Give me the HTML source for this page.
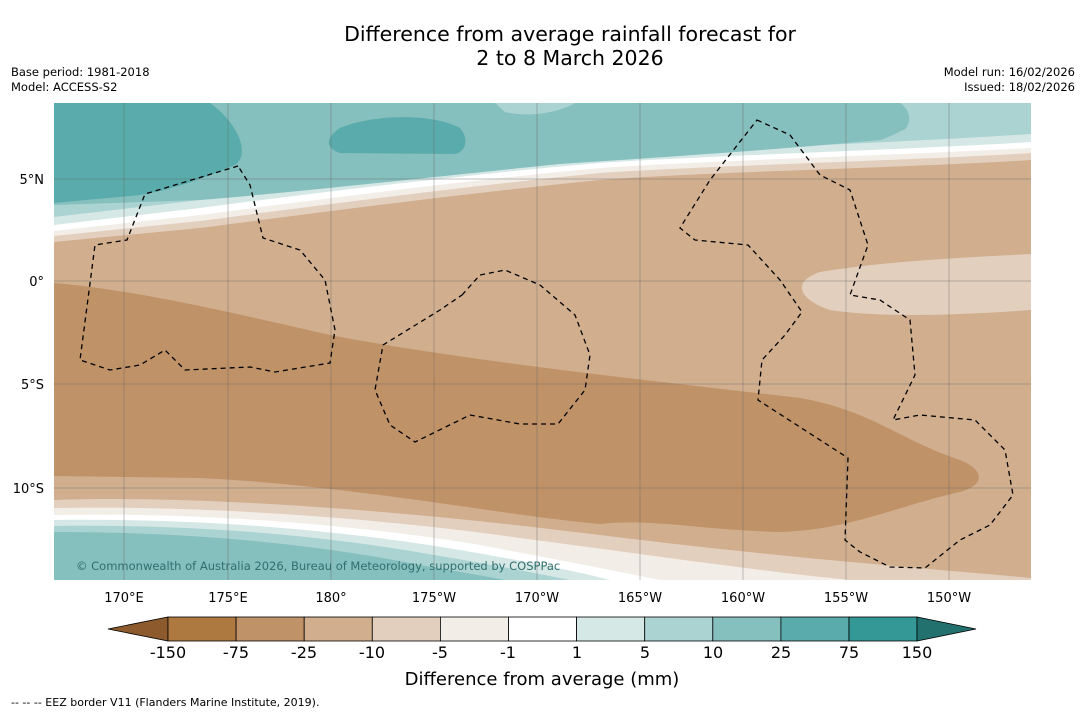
<!DOCTYPE html>
<html><head><meta charset="utf-8"><style>
body{margin:0;background:#fff;font-family:"DejaVu Sans","Liberation Sans",sans-serif;}
#wrap{position:relative;width:1085px;height:713px;overflow:hidden;background:#fff}
.t{position:absolute;white-space:nowrap;color:#000}
svg text{font-family:"DejaVu Sans","Liberation Sans",sans-serif}
</style></head><body>
<div id="wrap">
<div class="t" style="left:0;width:1140px;top:22px;text-align:center;font-size:20.5px;line-height:24px">Difference from average rainfall forecast for<br>2 to 8 March 2026</div>
<div class="t" style="left:11px;top:65px;font-size:11.5px;line-height:15px">Base period: 1981-2018<br>Model: ACCESS-S2</div>
<div class="t" style="right:10px;top:65px;font-size:11.5px;line-height:15px;text-align:right">Model run: 16/02/2026<br>Issued: 18/02/2026</div>
<svg width="1085" height="713" style="position:absolute;left:0;top:0">
<defs><clipPath id="mc"><rect x="54" y="103" width="977" height="477"/></clipPath></defs>
<g clip-path="url(#mc)">
<rect x="54" y="103" width="977" height="477" fill="#d0ae8e"/>
<path d="M54,103 H1031 V160 C900,168 700,172 600,180 C450,195 300,215 200,228 L54,242 Z" fill="#e3cfbd"/>
<path d="M54,103 H1031 V153 C900,161 700,166 600,173 C450,188 300,208 200,221 L54,236 Z" fill="#f2ede7"/>
<path d="M54,103 H1031 V148 C900,155 700,161 600,168 C450,182 300,202 200,215 L54,231 Z" fill="#ffffff"/>
<path d="M54,103 H1031 V142 C900,150 700,156 600,163 C450,176 300,195 200,208 L54,225 Z" fill="#d5e8e6"/>
<path d="M54,103 H1031 V134 C900,143 700,149 600,156 C450,168 300,187 200,200 L54,217 Z" fill="#abd3d2"/>
<path d="M54,103 H980 C930,110 910,130 880,140 C750,152 650,158 560,164 C450,175 300,192 200,200 L54,205 Z" fill="#85bfbe"/>
<path d="M54,103 H210 C240,125 250,155 235,165 C200,180 170,190 140,195 L54,203 Z" fill="#5aabab"/>
<path d="M340,128 C370,115 430,112 460,128 C470,140 465,152 455,154 L340,153 C325,148 325,138 340,128 Z" fill="#5aabab"/>
<path d="M495,103 H575 C560,112 530,118 505,112 Z" fill="#abd3d2"/>
<path d="M900,103 H1031 V130 C1000,138 960,135 905,130 C912,120 910,110 900,103 Z" fill="#abd3d2"/>
<path d="M1031,254 C950,258 880,262 820,272 C790,282 800,300 830,310 C880,318 960,315 1031,310 Z" fill="#e3cfbd"/>
<path d="M54,283 C130,290 200,305 330,335 C450,358 600,375 800,398 C870,410 900,440 960,460 C985,470 985,485 960,492 C900,505 850,530 780,532 C700,530 650,518 600,524 C500,515 350,485 200,478 L54,476 Z" fill="#bf9268"/>
<path d="M54,500 C200,495 400,510 600,535 C800,560 950,570 1031,578 V580 H54 Z" fill="#e3cfbd"/>
<path d="M54,508 C200,505 380,518 520,538 C650,555 750,570 850,580 H54 Z" fill="#f2ede7"/>
<path d="M54,515 C200,512 360,525 480,545 C560,560 620,572 660,580 H54 Z" fill="#ffffff"/>
<path d="M54,520 C200,518 340,530 460,550 C530,562 580,572 610,580 H54 Z" fill="#d5e8e6"/>
<path d="M54,526 C200,524 330,536 440,556 C500,566 540,574 570,580 H54 Z" fill="#abd3d2"/>
<path d="M54,532 C200,532 320,545 420,565 C460,572 490,577 505,580 H54 Z" fill="#85bfbe"/>
<g stroke="#666" stroke-width="0.5" stroke-opacity="0.8">
<line x1="124" y1="103" x2="124" y2="580"/><line x1="228" y1="103" x2="228" y2="580"/><line x1="331" y1="103" x2="331" y2="580"/><line x1="434" y1="103" x2="434" y2="580"/><line x1="537" y1="103" x2="537" y2="580"/><line x1="640" y1="103" x2="640" y2="580"/><line x1="743" y1="103" x2="743" y2="580"/><line x1="846" y1="103" x2="846" y2="580"/><line x1="949" y1="103" x2="949" y2="580"/>
<line x1="54" y1="179" x2="1031" y2="179"/><line x1="54" y1="281" x2="1031" y2="281"/><line x1="54" y1="384" x2="1031" y2="384"/><line x1="54" y1="488" x2="1031" y2="488"/>
</g>
<g fill="none" stroke="#000" stroke-width="1.3" stroke-dasharray="5,4">
<path d="M238,166 L145,194 L127,240 L95,245 L80,360 L110,370 L140,365 L165,350 L185,370 L250,367 L275,372 L330,363 L335,330 L325,280 L300,250 L263,238 L250,185 Z"/>
<path d="M462,295 L480,275 L505,270 L540,285 L575,315 L590,355 L585,390 L558,424 L520,424 L470,415 L415,442 L390,425 L375,390 L383,345 L440,310 Z"/>
<path d="M757,120 L790,135 L820,175 L850,190 L868,245 L850,295 L880,300 L910,320 L915,375 L893,420 L920,415 L975,420 L1005,450 L1013,495 L990,525 L960,540 L925,568 L890,567 L860,552 L845,540 L848,458 L758,400 L762,360 L785,335 L802,312 L780,280 L748,245 L695,240 L680,228 L710,180 Z"/>
</g>
<text x="76" y="570" font-size="11.5" fill="#2f6f6d">© Commonwealth of Australia 2026, Bureau of Meteorology, supported by COSPPac</text>
</g>
<g font-size="13" fill="#000">
<text x="124" y="602" text-anchor="middle">170°E</text><text x="228" y="602" text-anchor="middle">175°E</text><text x="331" y="602" text-anchor="middle">180°</text><text x="434" y="602" text-anchor="middle">175°W</text><text x="537" y="602" text-anchor="middle">170°W</text><text x="640" y="602" text-anchor="middle">165°W</text><text x="743" y="602" text-anchor="middle">160°W</text><text x="846" y="602" text-anchor="middle">155°W</text><text x="949" y="602" text-anchor="middle">150°W</text>
<text x="44" y="184" text-anchor="end">5°N</text><text x="44" y="286" text-anchor="end">0°</text><text x="44" y="389" text-anchor="end">5°S</text><text x="44" y="493" text-anchor="end">10°S</text>
</g>
<g stroke="#000" stroke-width="0.8">
<polygon points="168,617 168,641 108,629" fill="#8c5a2c"/>
<rect x="168" y="617" width="68.1" height="24" fill="#ae7841"/>
<rect x="236.1" y="617" width="68.1" height="24" fill="#bf9268"/>
<rect x="304.2" y="617" width="68.1" height="24" fill="#d0ae8e"/>
<rect x="372.3" y="617" width="68.1" height="24" fill="#e3cfbd"/>
<rect x="440.4" y="617" width="68.1" height="24" fill="#f2ede7"/>
<rect x="508.5" y="617" width="68.1" height="24" fill="#ffffff"/>
<rect x="576.6" y="617" width="68.1" height="24" fill="#d5e8e6"/>
<rect x="644.7" y="617" width="68.1" height="24" fill="#abd3d2"/>
<rect x="712.8" y="617" width="68.1" height="24" fill="#85bfbe"/>
<rect x="780.9" y="617" width="68.1" height="24" fill="#5aabab"/>
<rect x="849" y="617" width="68.1" height="24" fill="#339896"/>
<polygon points="917,617 917,641 976,629" fill="#23716f"/>
</g>
<g font-size="16" fill="#000" text-anchor="middle">
<text x="168" y="658">-150</text><text x="236" y="658">-75</text><text x="304" y="658">-25</text><text x="372" y="658">-10</text><text x="440" y="658">-5</text><text x="508" y="658">-1</text><text x="577" y="658">1</text><text x="645" y="658">5</text><text x="713" y="658">10</text><text x="781" y="658">25</text><text x="849" y="658">75</text><text x="917" y="658">150</text>
</g>
<text x="542" y="685" font-size="18" text-anchor="middle">Difference from average (mm)</text>
<text x="11" y="706" font-size="11">--  --  -- EEZ border V11 (Flanders Marine Institute, 2019).</text>
</svg>
</div>
</body></html>
